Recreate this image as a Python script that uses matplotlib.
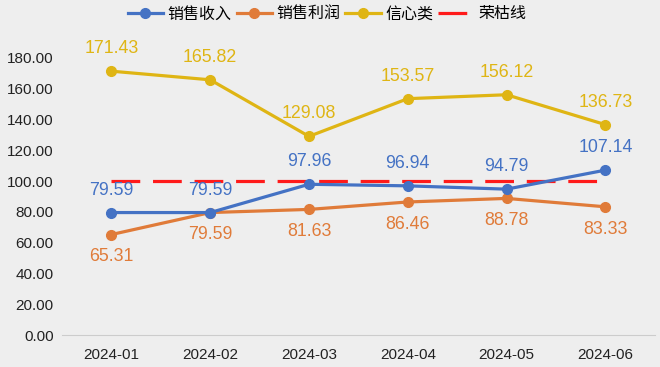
import matplotlib.pyplot as plt
import numpy as np

plt.rcParams['font.family'] = ['Liberation Sans', 'Noto Sans CJK SC', 'DejaVu Sans']

months = ['2024-01', '2024-02', '2024-03', '2024-04', '2024-05', '2024-06']
revenue = [79.59, 79.59, 97.96, 96.94, 94.79, 107.14]
profit = [65.31, 79.59, 81.63, 86.46, 88.78, 83.33]
confidence = [171.43, 165.82, 129.08, 153.57, 156.12, 136.73]
boom_line = [100, 100, 100, 100, 100, 100]

bg = '#eeeeee'
c_blue = '#4472c4'
c_orange = '#e07b39'
c_gold = '#dfb514'
c_red = '#ff1a1a'

fig = plt.figure(figsize=(6.6, 3.67), dpi=100, facecolor=bg)
ax = fig.add_axes([0.094, 0.087, 0.898, 0.755], facecolor=bg)
x = np.arange(len(months))

ax.plot(x, revenue, color=c_blue, lw=2.3, marker='o', ms=7, label='销售收入', zorder=4)
ax.plot(x, profit, color=c_orange, lw=2.3, marker='o', ms=7, label='销售利润', zorder=3)
ax.plot(x, confidence, color=c_gold, lw=2.3, marker='o', ms=7, label='信心类', zorder=3)
ax.plot(x, boom_line, color=c_red, lw=2.3, ls=(0, (9, 4)), label='荣枯线', zorder=2)

for xi, v in zip(x, revenue):
    ax.annotate(f'{v:.2f}', (xi, v), xytext=(0, 10), textcoords='offset points',
                ha='center', va='bottom', color=c_blue, fontsize=12.8)
for xi, v in zip(x, profit):
    ax.annotate(f'{v:.2f}', (xi, v), xytext=(0, -10), textcoords='offset points',
                ha='center', va='top', color=c_orange, fontsize=12.8)
for xi, v in zip(x, confidence):
    ax.annotate(f'{v:.2f}', (xi, v), xytext=(0, 10), textcoords='offset points',
                ha='center', va='bottom', color=c_gold, fontsize=12.8, annotation_clip=False)

ax.set_xlim(-0.5, len(months) - 0.5)
ax.set_ylim(0, 180)
ax.set_yticks(np.arange(0, 181, 20))
ax.set_yticklabels([f'{t:.2f}' for t in np.arange(0, 181, 20)])
ax.set_xticks(x)
ax.set_xticklabels(months)
ax.tick_params(length=0, labelsize=11, colors='#222222', pad=9)
ax.tick_params(axis='y', pad=6)
for s in ['top', 'right', 'left']:
    ax.spines[s].set_visible(False)
ax.spines['bottom'].set_color('#cccccc')

ax.legend(loc='lower center', bbox_to_anchor=(0.447, 1.08), ncol=4, frameon=False,
          fontsize=11.5, handlelength=2.2, handletextpad=0.3, columnspacing=0.3)

fig.savefig('out.png', dpi=100, facecolor=bg)
